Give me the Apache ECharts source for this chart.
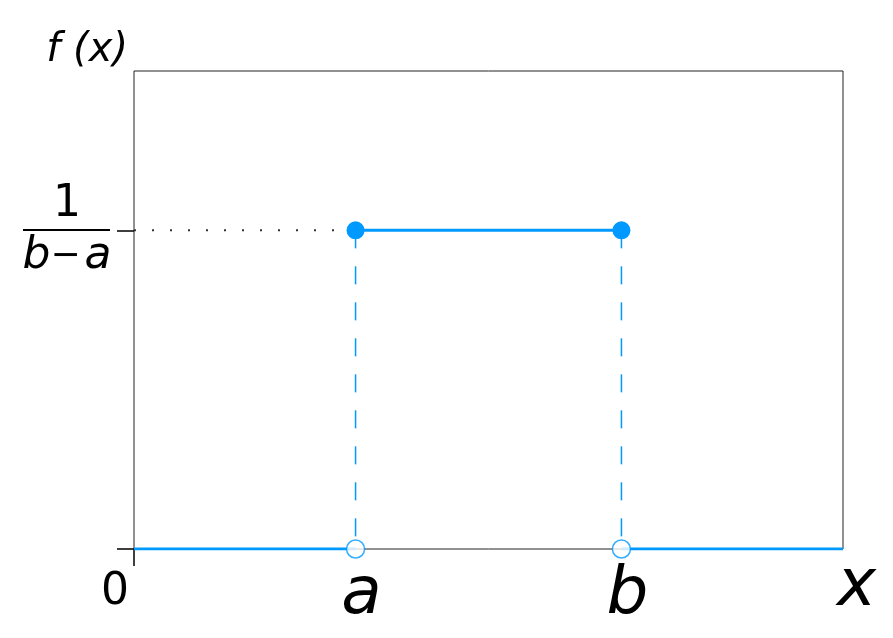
<!DOCTYPE html>
<html>
<head>
<meta charset="utf-8">
<script src="https://cdn.jsdelivr.net/npm/echarts@6/dist/echarts.min.js"></script>
<style>
  html, body { margin: 0; padding: 0; background: #fff; }
  #main { width: 893px; height: 638px; }
</style>
</head>
<body>
<div id="main"></div>
<script>
// 均勻分布的數值
const xMax = 16;
const yMax = 0.25;
const a = 5;
const b = 11;
const pdfLevel = 1 / 6;

// 各段線條
const leftSeg = [[0, 0], [a, 0]];
const topSeg = [[a, pdfLevel], [b, pdfLevel]];
const rightSeg = [[b, 0], [xMax, 0]];
const dashA = [[a, pdfLevel], [a, 0]];
const dashB = [[b, pdfLevel], [b, 0]];
const guideSeg = [[0, pdfLevel], [a, pdfLevel]];
const openPoints = [[a, 0], [b, 0]];

// 刻度文字
const xTickValues = [0, a, b];
const xTickLabels = ['0', 'a', 'b'];
const yTickValues = [0, pdfLevel];

const blue = '#0099ff';
const font = 'DejaVu Sans';

const chart = echarts.init(document.getElementById('main'), null, { renderer: 'canvas' });

const solid = (data) => ({
  type: 'line',
  data: data,
  showSymbol: false,
  lineStyle: { color: blue, width: 3 },
  silent: true,
  z: 3,
});

const dashed = (data) => ({
  type: 'line',
  data: data,
  showSymbol: false,
  lineStyle: { color: blue, width: 1.5, type: [18, 18] },
  silent: true,
  z: 2,
});

const option = {
  animation: false,
  grid: {
    left: 134,
    right: 50,
    top: 71,
    bottom: 89,
    show: true,
    borderColor: '#222',
    borderWidth: 1,
  },
  xAxis: {
    type: 'value',
    min: 0,
    max: xMax,
    name: '{x|x}',
    nameLocation: 'end',
    nameGap: -6,
    nameTextStyle: {
      verticalAlign: 'top',
      rich: {
        x: {
          fontFamily: font,
          fontStyle: 'italic',
          fontSize: 66,
          color: '#000',
          padding: [6, 0, 0, 0],
        },
      },
    },
    axisLine: { show: false },
    splitLine: { show: false },
    axisTick: {
      show: true,
      customValues: [0],
      length: 17,
      lineStyle: { color: '#000', width: 1.5 },
    },
    axisLabel: {
      customValues: xTickValues,
      margin: 14,
      formatter: function (v) {
        const i = xTickValues.indexOf(v);
        if (i === 0) return '{z|' + xTickLabels[i] + '}';
        return '{v|' + xTickLabels[i] + '}';
      },
      rich: {
        z: {
          fontFamily: font,
          fontSize: 44,
          color: '#000',
          padding: [8, 38, 0, 0],
        },
        v: {
          fontFamily: font,
          fontStyle: 'italic',
          fontSize: 66,
          color: '#000',
          padding: [0, 0, 0, 12],
        },
      },
    },
  },
  yAxis: {
    type: 'value',
    min: 0,
    max: yMax,
    name: 'f (x)',
    nameLocation: 'end',
    nameGap: 0,
    nameTextStyle: {
      fontFamily: font,
      fontStyle: 'italic',
      fontSize: 40,
      color: '#000',
      align: 'right',
      padding: [0, 6, 0, 0],
    },
    axisLine: { show: false },
    splitLine: { show: false },
    axisTick: {
      show: true,
      customValues: yTickValues,
      length: 17,
      lineStyle: { color: '#000', width: 1.5 },
    },
    axisLabel: {
      customValues: [pdfLevel],
      margin: 67,
      align: 'center',
      formatter: function () {
        return '{n|1}\n{d|b}{m|\u2212}{d|a}';
      },
      rich: {
        n: { fontFamily: font, fontSize: 44, lineHeight: 52, color: '#000' },
        d: { fontFamily: font, fontStyle: 'italic', fontSize: 44, lineHeight: 52, color: '#000' },
        m: { fontFamily: font, fontSize: 36, lineHeight: 52, color: '#000', padding: [0, 4, 0, 0] },
      },
    },
  },
  graphic: [
    {
      type: 'line',
      shape: { x1: 23, y1: 230, x2: 110, y2: 230 },
      style: { stroke: '#000', lineWidth: 2 },
      silent: true,
    },
  ],
  series: [
    {
      type: 'line',
      data: guideSeg,
      showSymbol: false,
      lineStyle: { color: '#333', width: 2, type: [2, 16] },
      silent: true,
      z: 1,
    },
    dashed(dashA),
    dashed(dashB),
    solid(leftSeg),
    solid(rightSeg),
    {
      type: 'line',
      data: topSeg,
      symbol: 'circle',
      symbolSize: 18,
      showSymbol: true,
      itemStyle: { color: blue },
      lineStyle: { color: blue, width: 3 },
      silent: true,
      z: 4,
    },
    {
      type: 'scatter',
      data: openPoints,
      symbol: 'circle',
      symbolSize: 18,
      itemStyle: { color: '#fff', borderColor: blue, borderWidth: 1.5 },
      silent: true,
      z: 5,
    },
  ],
};

chart.setOption(option);
window.addEventListener('resize', () => chart.resize());
</script>
</body>
</html>
